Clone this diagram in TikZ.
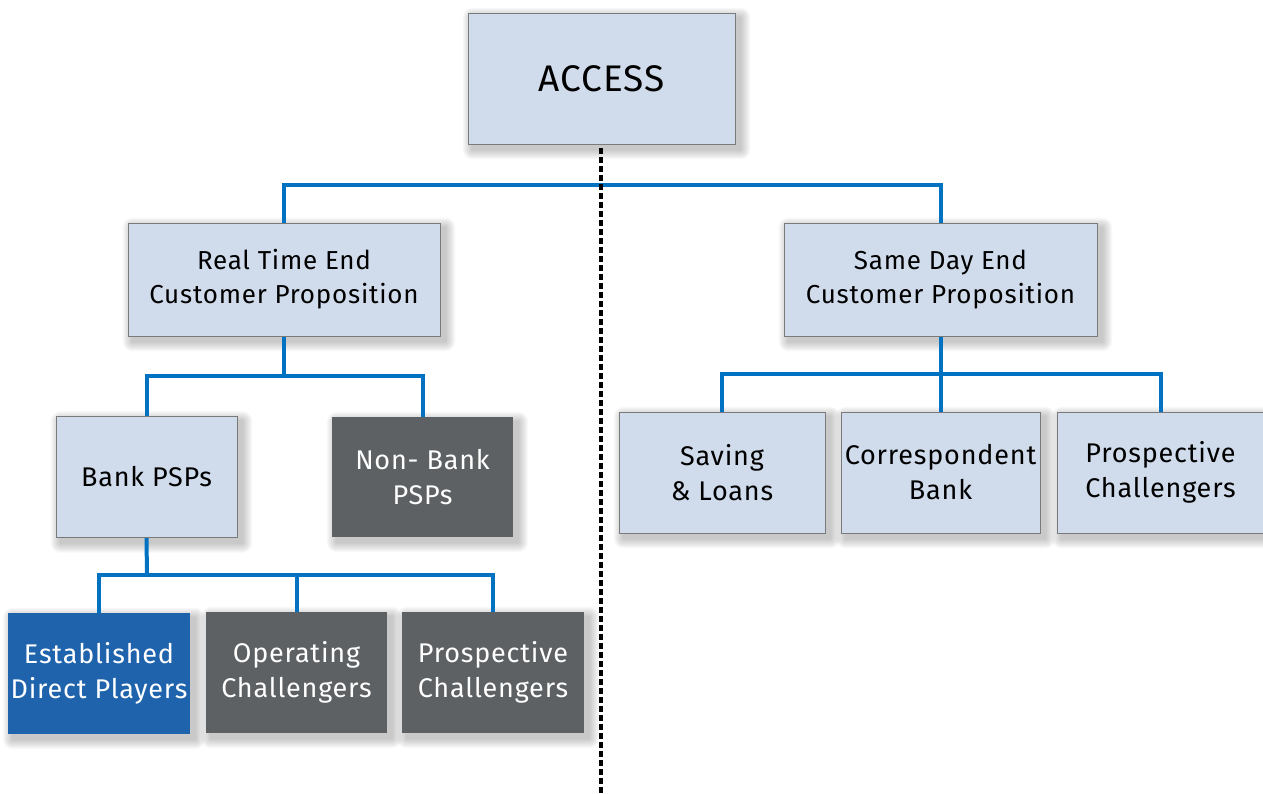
\documentclass[tikz,border=0pt]{standalone}
\usepackage{fontspec}
\setmainfont{Fira Sans}
\newfontfamily\boxfont[LetterSpace=3]{Fira Sans}
\usetikzlibrary{calc}
\definecolor{boxlight}{HTML}{D0DCEC}
\definecolor{boxdark}{HTML}{5D6164}
\definecolor{boxblue}{HTML}{1F63AD}
\definecolor{connblue}{HTML}{0072C1}
\definecolor{edgegray}{HTML}{7A7A7A}
\pgfdeclarelayer{shadowlayer}
\pgfdeclarelayer{linelayer}
\pgfsetlayers{shadowlayer,linelayer,main}
\begin{document}
\begin{tikzpicture}[x=1pt,y=-1pt,
  basebox/.style={rectangle, inner sep=0pt, align=center},
  lightbox/.style={basebox, fill=boxlight, draw=edgegray, line width=0.8pt, text=black},
  darkbox/.style={basebox, fill=boxdark, text=white},
  bluebox/.style={basebox, fill=boxblue, text=white},
  midtext/.style={font=\boxfont\fontsize{26}{34}\selectfont},
  lowtext/.style={font=\boxfont\fontsize{27}{35}\selectfont},
  conn/.style={draw=connblue, line width=4pt, line join=miter},
  divider/.style={draw=black, line width=3.5pt, dash pattern=on 6pt off 3pt}
]
\useasboundingbox (0,0) rectangle (1263,793);

% top
\node[lightbox, minimum width=267pt, minimum height=131pt,
      font=\boxfont\fontsize{37}{44}\selectfont] (access) at (601.5,78.5) {ACCESS};

% middle level
\node[lightbox, midtext, minimum width=312pt, minimum height=113pt] (rt) at (284,279.5) {Real Time End\\Customer Proposition};
\node[lightbox, midtext, minimum width=313pt, minimum height=113pt] (sd) at (940.5,279.5) {Same Day End\\Customer Proposition};

% left third level
\node[lightbox, lowtext, minimum width=181pt, minimum height=121pt] (bank) at (146.5,477) {Bank PSPs};
\node[darkbox, lowtext, minimum width=181pt, minimum height=120pt] (nonbank) at (422.5,477) {Non- Bank\\PSPs};

% left fourth level
\node[bluebox, lowtext, minimum width=182pt, minimum height=121pt] (est) at (99,673.5) {Established\\Direct Players};
\node[darkbox, lowtext, minimum width=181pt, minimum height=121pt] (oper) at (296.5,672.5) {Operating\\Challengers};
\node[darkbox, lowtext, minimum width=182pt, minimum height=121pt] (prosl) at (493,672.5) {Prospective\\Challengers};

% right third level
\node[lightbox, lowtext, minimum width=206pt, minimum height=121pt] (save) at (722,472.5) {Saving\\\& Loans};
\node[lightbox, lowtext, minimum width=199pt, minimum height=121pt] (corr) at (940.5,472.5) {Correspondent\\Bank};
\node[lightbox, lowtext, minimum width=207pt, minimum height=121pt] (prosr) at (1160.5,472.5) {Prospective\\Challengers};

% shadows
\begin{pgfonlayer}{shadowlayer}
\foreach \n in {access,rt,sd,bank,nonbank,est,oper,prosl,save,corr,prosr}{
  \foreach \k in {1,...,10}{
    \fill[black, opacity=0.025, rounded corners=\k pt]
      ($(\n.north west)+(5-\k,5-\k)$) rectangle ($(\n.south east)+(5+\k,5+\k)$);
  }
}
\end{pgfonlayer}

% connectors
\coordinate (jtop) at (612,185);
\coordinate (jrt) at (284,376);
\coordinate (jbank) at (147,575);
\coordinate (jsd) at (940.5,374);
\coordinate (divend) at (601,793);
\begin{pgfonlayer}{linelayer}
\draw[conn] (rt.north) |- (jtop) -| (sd.north);
\draw[conn] (rt.south) -- (jrt);
\draw[conn] (bank.north) |- (jrt) -| (nonbank.north);
\draw[conn] (bank.south) -- (jbank);
\draw[conn] (est.north) |- (jbank) -| (prosl.north);
\draw[conn] (oper.north) -- (oper.north |- jbank);
\draw[conn] (sd.south) -- (jsd);
\draw[conn] (save.north) |- (jsd) -| (prosr.north);
\draw[conn] (corr.north) -- (corr.north |- jsd);
\end{pgfonlayer}

% divider
\draw[divider] ([yshift=-4pt]access.south -| divend) -- (divend);
\end{tikzpicture}
\end{document}
